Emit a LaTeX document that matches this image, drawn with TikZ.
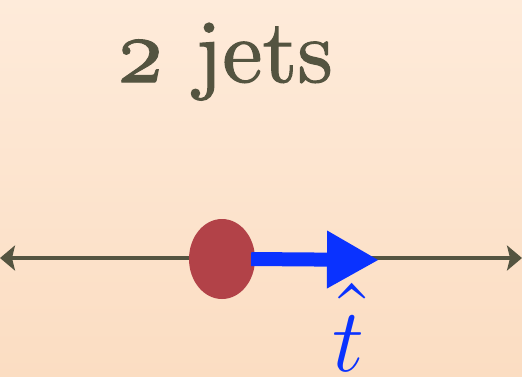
\RequirePackage{fix-cm}
\documentclass[tikz,border=0pt]{standalone}
\usepackage{fontspec}
\usetikzlibrary{arrows.meta, shapes.geometric}

\newfontfamily\titlefont{lmroman10-regular.otf}[Numbers=OldStyle, FakeBold=1.2]

\definecolor{axisgray}{RGB}{84,84,64}
\definecolor{jetred}{RGB}{178,66,72}
\definecolor{thrustblue}{RGB}{10,50,255}
\definecolor{bgtop}{RGB}{254,235,218}
\definecolor{bgbot}{RGB}{251,221,194}

\begin{document}
\begin{tikzpicture}[x=1pt, y=-1pt]
    \shade[top color=bgtop, bottom color=bgbot] (0,0) rectangle (522,376);
    \useasboundingbox (0,0) rectangle (522,376);

    \coordinate (L) at (0,258);
    \coordinate (R) at (522,258);
    \coordinate (tip) at (379,260);

    \draw[axisgray, line width=4pt,
        {Stealth[length=15pt,width=25pt,inset=3pt]}-{Stealth[length=15pt,width=25pt,inset=3pt]}]
        (L) -- (R);

    \node[ellipse, fill=jetred, minimum width=66pt, minimum height=80pt,
        inner sep=0pt] (jet) at (222,259) {};
    \draw[thrustblue, line width=14pt, -{Triangle[length=52pt,width=54pt]}]
        ([xshift=-4pt]jet.east) -- (tip);

    % hat placed by hand, well clear of the t
    \node[thrustblue, anchor=base, font=\fontsize{90}{90}\selectfont]
        (that) at (348,371)
        {\ooalign{$t$\cr\hidewidth\kern0.1em\raisebox{0.28em}{\char"02C6}\hidewidth\cr}};

    \node[axisgray, anchor=base, font=\titlefont\fontsize{90}{90}\selectfont]
        (title) at (224,82) {2 jets};
\end{tikzpicture}
\end{document}
